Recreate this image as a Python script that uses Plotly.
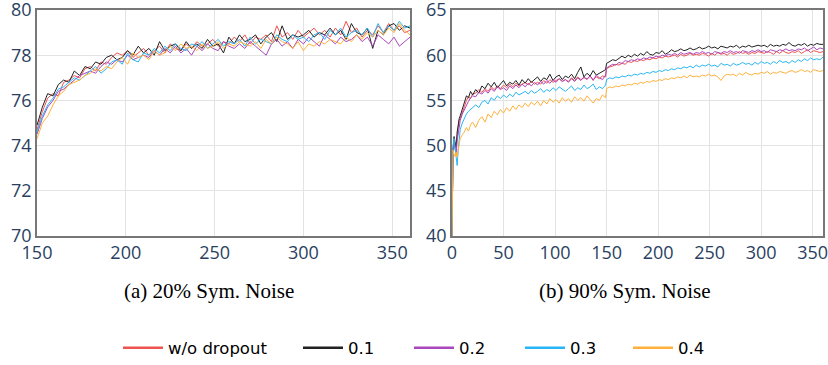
import plotly.graph_objects as go

# ---------------- data ----------------
series_names = ["w/o dropout", "0.1", "0.2", "0.3", "0.4"]
series_colors = ["#ef5350", "#212121", "#ab47bc", "#29b6f6", "#ffb13b"]

# Panel (a): 20% symmetric noise, epochs 150..360 step 3
epochs_a = list(range(150, 361, 3))

a_nodrop = [
    74.7, 75.5, 76.1, 76.3, 76.2, 76.8, 76.9, 77.1, 77.0, 77.4,
    77.5, 77.3, 77.7, 77.6, 77.9, 78.1, 78.0, 78.2, 77.9, 78.1,
    78.3, 78.0, 78.2, 78.4, 78.1, 78.5, 78.3, 78.2, 78.5, 78.3,
    78.6, 78.4, 78.5, 78.7, 78.4, 78.6, 78.5, 78.8, 78.6, 78.9,
    78.5, 78.8, 78.7, 78.9, 78.6, 79.3, 78.8, 79.0, 78.7, 79.1,
    78.8, 79.0, 79.2, 78.9, 79.1, 78.8, 79.2, 78.9, 79.5, 79.0,
    79.2, 78.8, 79.1, 78.9, 79.3, 79.0, 79.4, 79.1, 79.3, 79.0,
    79.1,
]
a_d01 = [
    74.9, 75.7, 76.3, 76.2, 76.7, 76.9, 76.8, 77.3, 77.1, 77.5,
    77.4, 77.7, 77.6, 77.9, 78.0, 77.8, 77.9, 78.2, 78.0, 78.4,
    78.1, 78.3, 78.0, 78.6, 78.2, 78.4, 78.5, 78.2, 78.6, 78.3,
    78.5, 78.3, 78.7, 78.4, 78.5, 78.1, 78.8, 78.5, 78.9, 78.6,
    78.7, 78.9, 78.5, 78.8, 79.0, 78.6, 79.3, 78.7, 78.9, 78.8,
    78.9, 79.1, 78.8, 79.0, 78.9, 79.2, 78.9, 79.1, 78.7, 79.4,
    79.0, 78.9, 79.2, 78.3, 79.1, 78.9, 79.3, 79.4, 79.1, 79.3,
    79.2,
]
a_d02 = [
    74.5, 75.2, 75.7, 76.0, 76.4, 76.5, 76.7, 76.9, 77.1, 77.2,
    77.3, 77.2, 77.5, 77.7, 77.6, 77.8, 77.7, 78.0, 77.8, 77.9,
    78.0, 77.9, 78.2, 78.0, 78.3, 78.1, 78.4, 78.1, 78.3, 78.0,
    78.4, 78.2, 78.5, 78.3, 78.2, 78.6, 78.4, 78.3, 78.5, 78.3,
    78.6, 78.4, 78.2, 78.0, 78.5, 78.7, 78.4, 78.6, 78.3, 78.7,
    78.5, 78.8, 78.6, 78.4, 78.9, 78.7, 78.5, 78.8, 78.6, 78.7,
    78.9, 78.6, 78.8, 78.4, 78.9, 78.7, 78.5, 78.8, 78.4, 78.6,
    78.8,
]
a_d03 = [
    74.6, 75.3, 75.8, 76.1, 76.5, 76.6, 76.8, 77.0, 76.9, 77.1,
    77.3, 77.5, 77.2, 77.4, 77.7, 77.8, 77.6, 78.1, 77.8, 77.7,
    78.1, 78.0, 78.3, 78.1, 78.4, 78.2, 78.5, 78.3, 78.2, 78.5,
    78.4, 78.6, 78.3, 78.5, 78.7, 78.4, 78.6, 78.5, 78.7, 78.4,
    78.8, 78.5, 78.7, 78.6, 78.5, 78.9, 78.7, 78.6, 78.9, 78.7,
    78.8, 78.6, 78.9, 79.0, 78.7, 79.1, 78.9, 79.2, 78.8, 79.0,
    79.1, 78.9, 79.2, 78.8, 79.4, 79.0, 79.3, 79.1, 79.5, 79.2,
    79.3,
]
a_d04 = [
    74.3, 75.0, 75.3, 75.8, 76.2, 76.4, 76.7, 76.8, 76.9, 77.1,
    77.2, 77.4, 77.3, 77.5, 77.4, 77.7, 77.9, 77.6, 78.1, 77.9,
    78.0, 77.8, 78.2, 78.0, 78.1, 78.4, 78.2, 78.5, 78.3, 78.4,
    78.2, 78.5, 78.3, 78.4, 78.6, 78.3, 78.5, 78.4, 78.6, 78.5,
    78.4, 78.6, 78.3, 78.7, 78.5, 78.8, 78.6, 78.5, 78.3, 78.6,
    78.2, 78.5, 78.4, 78.6, 78.5, 78.7, 78.6, 78.5, 78.8, 78.6,
    78.9, 78.7, 79.0, 78.8, 79.1, 78.9, 79.2, 79.0, 79.4, 79.1,
    78.9,
]

# Panel (b): 90% symmetric noise
epochs_b = ([0, 1, 2, 3, 4, 5, 6, 7, 8, 10, 12, 14, 16, 18, 20]
            + list(range(23, 150, 3)) + list(range(150, 361, 3)))

b_nodrop = [
    40.0, 49.0, 50.5, 50.0, 49.5, 51.0, 52.0, 52.8, 53.0, 53.8, 54.3, 55.0, 55.4, 55.2, 55.7,
    55.8, 56.2, 55.9, 56.3, 56.0, 56.5, 56.2, 56.6, 56.3, 56.7,
    56.4, 56.8, 56.5, 56.9, 56.6, 56.8, 57.0, 56.7, 57.1, 56.8,
    57.0, 56.8, 57.2, 56.9, 57.3, 57.0, 57.2, 57.4, 57.1, 57.3,
    57.1, 57.5, 57.2, 57.6, 57.3, 57.5, 57.4, 57.7, 57.3, 57.6,
    57.4, 57.7, 57.6,
    58.5, 58.7, 58.8, 59.0, 58.9, 59.1, 59.0, 59.3, 59.2, 59.4,
    59.3, 59.5, 59.4, 59.6, 59.5, 59.7, 59.6, 59.8, 59.7, 59.9,
    59.8, 59.9, 60.0, 59.8, 60.1, 59.9, 60.0, 60.2, 60.0, 60.1,
    60.0, 60.2, 60.1, 59.9, 60.2, 60.0, 60.3, 60.1, 60.2, 60.0,
    60.3, 60.1, 60.2, 60.4, 60.2, 60.3, 60.1, 60.3, 60.2, 60.4,
    60.3, 60.2, 60.4, 60.3, 60.1, 60.4, 60.2, 60.5, 60.3, 60.2,
    60.4, 60.3, 60.5, 60.2, 60.4, 60.6, 60.3, 60.5, 60.4, 60.3,
    60.4,
]
b_d01 = [
    40.0, 49.5, 51.0, 50.5, 49.8, 51.5, 52.5, 53.0, 53.3, 54.0, 54.8, 55.5, 55.3, 56.0, 55.6,
    56.2, 55.8, 56.6, 56.3, 56.9, 56.5, 57.0, 56.4, 56.8, 57.2,
    56.6, 57.0, 56.8, 57.2, 56.7, 57.3, 56.9, 57.4, 57.0, 57.3,
    57.6, 57.1, 57.5, 57.3, 57.9, 57.2, 57.6, 57.8, 57.3, 57.7,
    57.5, 57.9, 57.4, 58.1, 58.7, 57.6, 58.0, 57.7, 58.3, 57.8,
    58.0, 58.2, 58.4,
    59.1, 59.3, 59.5, 59.4, 59.7, 59.9, 59.7, 60.0, 59.8, 60.1,
    59.9, 60.2, 60.0, 60.4, 60.1, 60.0, 60.3, 60.2, 60.5, 60.1,
    60.3, 60.6, 60.4, 60.5, 60.7, 60.5, 60.6, 60.8, 60.6, 60.7,
    60.9, 60.7, 60.8, 61.0, 60.8, 60.9, 60.7, 61.0, 60.9, 60.8,
    61.0, 60.9, 61.1, 60.8, 61.0, 60.9, 61.1, 60.9, 61.0, 61.1,
    61.0, 61.1, 60.9, 61.2, 61.0, 61.1, 61.0, 61.2, 61.1, 61.4,
    61.1, 61.0, 61.2, 61.1, 61.3, 61.0, 61.2, 61.1, 61.3, 61.2,
    61.2,
]
b_d02 = [
    40.0, 49.8, 50.2, 49.6, 49.0, 50.5, 51.5, 52.2, 52.8, 53.5, 54.0, 54.6, 54.9, 55.3, 55.5,
    55.4, 55.9, 55.7, 56.1, 55.8, 56.3, 56.0, 56.5, 56.2, 56.4,
    56.1, 56.6, 56.3, 56.7, 56.4, 56.8, 56.5, 56.9, 56.6, 57.0,
    56.7, 57.1, 56.8, 57.2, 56.9, 57.3, 57.0, 57.4, 57.1, 57.3,
    57.0, 57.4, 57.1, 57.5, 57.2, 57.6, 57.3, 57.7, 57.2, 57.8,
    57.5, 57.3, 57.8,
    58.6, 58.8, 59.0, 58.9, 59.2, 59.1, 59.4, 59.3, 59.5, 59.4,
    59.6, 59.5, 59.7, 59.6, 59.8, 59.7, 59.9, 59.8, 60.0, 59.9,
    60.1, 60.0, 60.2, 60.0, 60.3, 60.1, 60.2, 60.3, 60.1, 60.3,
    60.2, 60.4, 60.2, 60.3, 60.1, 60.4, 60.3, 60.2, 60.4, 60.3,
    60.5, 60.3, 60.4, 60.2, 60.5, 60.4, 60.3, 60.5, 60.4, 60.6,
    60.4, 60.5, 60.3, 60.6, 60.5, 60.4, 60.6, 60.5, 60.7, 60.5,
    60.6, 60.5, 60.7, 60.6, 60.8, 60.5, 60.7, 60.9, 60.6, 60.8,
    60.7,
]
b_d03 = [
    40.0, 50.0, 50.8, 49.5, 48.5, 47.8, 49.5, 51.0, 51.8, 52.5, 53.0, 53.5, 53.8, 54.0, 54.3,
    54.5, 54.2, 54.8, 55.0, 54.6, 55.3, 55.0, 55.5, 55.2, 55.6,
    55.3, 55.7, 55.4, 55.9, 55.6, 55.8, 56.0, 55.7, 56.1, 55.8,
    56.0, 56.3, 55.9, 56.2, 56.0, 56.4, 56.1, 56.5, 56.2, 56.0,
    56.3, 56.6, 56.1, 56.4, 56.2, 56.7, 56.3, 56.5, 56.8, 56.2,
    56.5, 56.3, 56.7,
    57.3, 57.5, 57.4, 57.6, 57.5, 57.7, 57.6, 57.8, 57.7, 57.9,
    57.8, 58.0, 57.9, 58.1, 58.0, 58.2, 58.1, 58.3, 58.2, 58.4,
    58.3, 58.5, 58.4, 58.6, 58.5, 58.7, 58.6, 58.8, 58.6, 58.9,
    58.7, 58.9, 58.8, 59.0, 58.8, 58.9, 58.7, 59.1, 58.9, 59.0,
    58.8, 59.1, 58.9, 59.0, 59.2, 59.0, 59.1, 58.9, 59.2, 59.0,
    59.3, 59.1, 59.2, 59.0, 59.3, 59.1, 59.4, 59.2, 59.3, 59.1,
    59.4, 59.2, 59.5, 59.3, 59.6, 59.4, 59.7, 59.5, 59.6, 59.5,
    59.8,
]
b_d04 = [
    40.0, 49.5, 49.0, 48.8, 49.3, 48.7, 49.5, 50.2, 50.8, 51.2, 51.5, 52.0, 51.6, 52.3, 52.6,
    52.0, 52.8, 53.2, 52.6, 53.5, 53.1, 53.8, 53.4, 54.0, 53.6,
    54.2, 53.8, 54.4, 54.0, 54.5, 54.2, 54.7, 54.3, 54.8, 54.5,
    54.9, 54.4, 55.0, 54.6, 55.2, 54.8, 55.1, 54.7, 55.3, 54.9,
    55.2, 54.8, 55.4, 55.0, 55.3, 54.9, 55.5, 55.1, 54.7, 55.2,
    55.0, 55.6, 55.3,
    56.3, 56.5, 56.4, 56.6, 56.5, 56.7, 56.6, 56.8, 56.7, 56.9,
    56.8, 57.0, 56.9, 57.1, 57.0, 57.2, 57.1, 57.3, 57.2, 57.4,
    57.3, 57.5, 57.4, 57.6, 57.5, 57.7, 57.5, 57.8, 57.6, 57.7,
    57.6, 57.8, 57.7, 57.9, 57.7, 57.8, 57.6, 57.2, 57.7, 57.9,
    57.8, 57.9, 57.7, 58.0, 57.8, 58.1, 57.9, 57.8, 58.0, 57.9,
    58.1, 58.0, 58.2, 57.9, 58.1, 58.0, 58.2, 58.1, 58.0, 58.2,
    58.3, 58.1, 58.2, 58.4, 58.2, 58.3, 58.1, 58.4, 58.3, 58.2,
    58.3,
]

panel_a = [a_nodrop, a_d01, a_d02, a_d03, a_d04]
panel_b = [b_nodrop, b_d01, b_d02, b_d03, b_d04]

x_ticks_a = [150, 200, 250, 300, 350]
y_ticks_a = [70, 72, 74, 76, 78, 80]
x_ticks_b = [0, 50, 100, 150, 200, 250, 300, 350]
y_ticks_b = [40, 45, 50, 55, 60, 65]
subtitles = ["(a) 20% Sym. Noise", "(b) 90% Sym. Noise"]

# ---------------- figure ----------------
W, H = 828, 365
fig = go.Figure()

for name, color, ya in zip(series_names, series_colors, panel_a):
    fig.add_trace(go.Scatter(x=epochs_a, y=ya, mode="lines", name=name,
                             line=dict(color=color, width=1),
                             xaxis="x", yaxis="y", showlegend=False))
for name, color, yb in zip(series_names, series_colors, panel_b):
    fig.add_trace(go.Scatter(x=epochs_b, y=yb, mode="lines", name=name,
                             line=dict(color=color, width=1),
                             xaxis="x2", yaxis="y2", showlegend=False))

# legend-only entries (one legend per item so spacing can follow the reference)
legend_line_starts = [123, 303, 414, 525, 633]
legend_ids = ["legend", "legend2", "legend3", "legend4", "legend5"]
for name, color, lid in zip(series_names, series_colors, legend_ids):
    fig.add_trace(go.Scatter(x=[None], y=[None], mode="lines", name=name,
                             line=dict(color=color, width=2.5),
                             xaxis="x", yaxis="y", showlegend=True, legend=lid))

tick_font = dict(family="Open Sans", size=18, color="#2a3f5f")
axis_common = dict(showline=True, linecolor="#777777", linewidth=1.5, mirror=True,
                   showgrid=True, gridcolor="#e3e3e3", gridwidth=1,
                   zeroline=False, ticks="", tickfont=tick_font, automargin=False,
                   ticklabeloverflow="allow")

y_dom = [(H - 236) / H, (H - 10) / H]
layout = dict(
    width=W, height=H,
    margin=dict(l=0, r=0, t=0, b=0, autoexpand=False),
    paper_bgcolor="white", plot_bgcolor="white",
    xaxis=dict(domain=[37 / W, 410 / W], range=[150, 360], tickvals=x_ticks_a,
               anchor="y", **axis_common),
    yaxis=dict(domain=y_dom, range=[70, 80], tickvals=y_ticks_a, anchor="x",
               **axis_common),
    xaxis2=dict(domain=[452 / W, 823 / W], range=[0, 360], tickvals=x_ticks_b,
                anchor="y2", **axis_common),
    yaxis2=dict(domain=y_dom, range=[40, 65], tickvals=y_ticks_b, anchor="x2",
                **axis_common),
    showlegend=True,
)
for lid, xs in zip(legend_ids, legend_line_starts):
    layout[lid] = dict(orientation="h", x=(xs - 5) / W, y=(H - 348) / H,
                       xanchor="left", yanchor="middle",
                       font=dict(family="DejaVu Sans", size=16.5, color="#000000"),
                       bgcolor="rgba(0,0,0,0)", itemwidth=40)
fig.update_layout(**layout)

fig.add_annotation(text=subtitles[0], x=209 / W, y=(H - 291) / H, xref="paper",
                   yref="paper", showarrow=False, xanchor="center", yanchor="middle",
                   font=dict(family="Liberation Serif", size=21, color="#000000"))
fig.add_annotation(text=subtitles[1], x=625 / W, y=(H - 291) / H, xref="paper",
                   yref="paper", showarrow=False, xanchor="center", yanchor="middle",
                   font=dict(family="Liberation Serif", size=21, color="#000000"))

fig.write_html("out.html", config={"displayModeBar": False},
               post_script="document.body.style.margin='0';"
                           "document.body.style.overflow='hidden';")
